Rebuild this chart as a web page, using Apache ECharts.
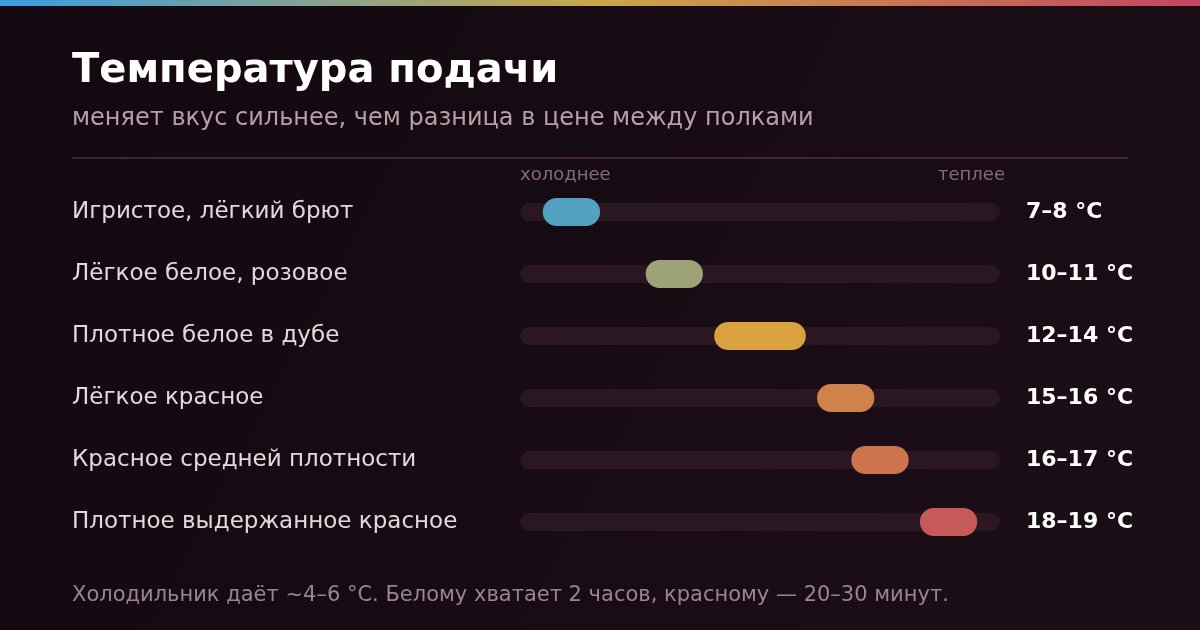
<!DOCTYPE html>
<html>
<head>
<meta charset="utf-8">
<title>Температура подачи</title>
<script src="https://cdn.jsdelivr.net/npm/echarts@6/dist/echarts.min.js"></script>
<style>
  html, body { margin: 0; padding: 0; background: #160b11; }
  #chart { width: 1200px; height: 630px; }
</style>
</head>
<body>
<div id="chart"></div>
<script>
var categories = [
    'Игристое, лёгкий брют',
    'Лёгкое белое, розовое',
    'Плотное белое в дубе',
    'Лёгкое красное',
    'Красное средней плотности',
    'Плотное выдержанное красное'
];
var lowTemps = [7, 10, 12, 15, 16, 18];
var highTemps = [8, 11, 14, 16, 17, 19];
var pillColors = ['#52a1c0', '#9da277', '#d9a23e', '#d0824b', '#cd744f', '#c55a59'];
var scaleMin = 6;
var scaleMax = 20;

var rangeLabels = lowTemps.map(function (lo, i) {
    return lo + '–' + highTemps[i] + ' °C';
});

var font = '"DejaVu Sans", sans-serif';
var dom = document.getElementById('chart');
var myChart = echarts.init(dom, null, { renderer: 'canvas' });

var option = {
    backgroundColor: new echarts.graphic.LinearGradient(0, 0, 1, 1, [
        { offset: 0, color: '#140910' },
        { offset: 1, color: '#1c0e17' }
    ]),
    animation: false,
    grid: {
        left: 520,
        width: 480,
        top: 181,
        height: 372
    },
    xAxis: {
        type: 'value',
        min: scaleMin,
        max: scaleMax,
        show: false
    },
    yAxis: [
        {
            type: 'category',
            data: categories,
            inverse: true,
            axisLine: { show: false },
            axisTick: { show: false },
            splitLine: { show: false },
            axisLabel: {
                margin: 448,
                align: 'left',
                color: '#e4d8de',
                fontFamily: font,
                fontSize: 23
            }
        },
        {
            type: 'category',
            data: rangeLabels,
            inverse: true,
            position: 'right',
            axisLine: { show: false },
            axisTick: { show: false },
            splitLine: { show: false },
            axisLabel: {
                margin: 26,
                align: 'left',
                color: '#ffffff',
                fontFamily: font,
                fontWeight: 'bold',
                fontSize: 22
            }
        }
    ],
    series: [
        {
            name: 'шкала',
            type: 'custom',
            silent: true,
            data: categories.map(function (c, i) { return [i, scaleMin, scaleMax]; }),
            encode: { y: 0, x: [1, 2] },
            renderItem: function (params, api) {
                var a = api.coord([api.value(1), api.value(0)]);
                var b = api.coord([api.value(2), api.value(0)]);
                var h = 18;
                return {
                    type: 'rect',
                    shape: { x: a[0], y: a[1] - h / 2, width: b[0] - a[0], height: h, r: h / 2 },
                    style: { fill: '#2a1722' }
                };
            }
        },
        {
            name: 'температура',
            type: 'custom',
            data: categories.map(function (c, i) { return [i, lowTemps[i], highTemps[i]]; }),
            encode: { y: 0, x: [1, 2] },
            renderItem: function (params, api) {
                var a = api.coord([api.value(1), api.value(0)]);
                var b = api.coord([api.value(2), api.value(0)]);
                var h = 28;
                var pad = 11.5;
                return {
                    type: 'rect',
                    shape: { x: a[0] - pad, y: a[1] - h / 2, width: b[0] - a[0] + pad * 2, height: h, r: h / 2 },
                    style: { fill: pillColors[params.dataIndex] }
                };
            }
        }
    ],
    graphic: [
        {
            type: 'rect',
            left: 0, top: 0,
            shape: { width: 1200, height: 6 },
            style: {
                fill: new echarts.graphic.LinearGradient(0, 0, 1, 0, [
                    { offset: 0, color: '#3a9de2' },
                    { offset: 0.5, color: '#cba648' },
                    { offset: 1, color: '#c44562' }
                ])
            }
        },
        {
            type: 'text',
            x: 72, y: 72,
            style: {
                text: 'Температура подачи',
                fill: '#ffffff',
                font: 'bold 40px ' + font,
                verticalAlign: 'middle'
            }
        },
        {
            type: 'text',
            x: 72, y: 119,
            style: {
                text: 'меняет вкус сильнее, чем разница в цене между полками',
                fill: '#b89faa',
                font: '24px ' + font,
                verticalAlign: 'middle'
            }
        },
        {
            type: 'rect',
            left: 72, top: 157,
            shape: { width: 1056, height: 2 },
            style: { fill: '#432432' }
        },
        {
            type: 'text',
            x: 520, y: 175,
            style: {
                text: 'холоднее',
                fill: '#876a78',
                font: '18px ' + font,
                verticalAlign: 'middle'
            }
        },
        {
            type: 'text',
            x: 1005, y: 175,
            style: {
                text: 'теплее',
                fill: '#876a78',
                font: '18px ' + font,
                align: 'right',
                verticalAlign: 'middle'
            }
        },
        {
            type: 'text',
            x: 72, y: 596,
            style: {
                text: 'Холодильник даёт ~4–6 °C. Белому хватает 2 часов, красному — 20–30 минут.',
                fill: '#9c8390',
                font: '21px ' + font,
                verticalAlign: 'middle'
            }
        }
    ]
};

myChart.setOption(option, true);
window.onresize = myChart.resize;
</script>
</body>
</html>
